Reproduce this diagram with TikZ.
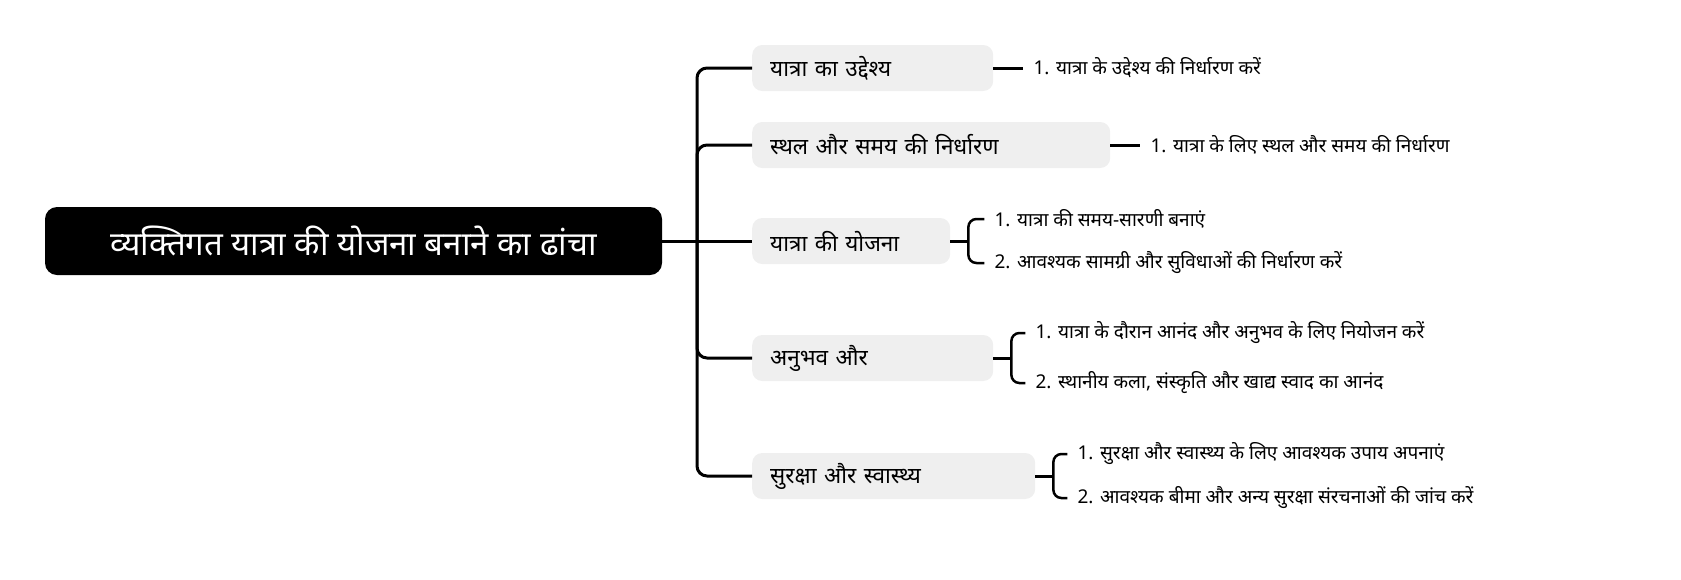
\documentclass[tikz,border=0pt]{standalone}
\usepackage{fontspec}
\setmainfont[Script=Devanagari]{Noto Sans}
\usetikzlibrary{positioning}
\definecolor{boxgray}{HTML}{EFEFEF}
\tikzset{
  rootbox/.style={fill=black, text=white, rounded corners=12pt, minimum width=617pt, minimum height=68pt, font=\fontsize{33}{38}\selectfont},
  topic/.style={fill=boxgray, rounded corners=10pt, minimum height=46pt, anchor=west, align=left, inner xsep=18pt, font=\fontsize{22.5}{26}\selectfont},
  leaf/.style={inner xsep=10pt, font=\fontsize{19}{23}\selectfont},
  link/.style={line width=3pt},
  bracelink/.style={line width=2.5pt, rounded corners=8pt},
}
\begin{document}
\begin{tikzpicture}[x=1pt, y=1pt]
    \useasboundingbox (0,0) rectangle (1681,-579);
    \node[rootbox] (root) at (353.5,-241) {व्यक्तिगत यात्रा की योजना बनाने का ढांचा};
    \coordinate (hub) at (697,-241);
    \node[topic, text width=205pt] (b1) at (752,-68) {यात्रा का उद्देश्य};
    \node[topic, text width=322pt] (b2) at (752,-145) {स्थल और समय की निर्धारण};
    \node[topic, text width=162pt] (b3) at (752,-241) {यात्रा की योजना};
    \node[topic, text width=205pt] (b4) at (752,-358) {अनुभव और};
    \node[topic, text width=247pt] (b5) at (752,-476) {सुरक्षा और स्वास्थ्य};
    \draw[link] (root.east) -- (b3.west);
    \foreach \b in {b1,b2,b4,b5}
        \draw[link, rounded corners=10pt] (hub) |- (\b.west);

    \node[leaf, right=30pt of b1] (b1a) {1. यात्रा के उद्देश्य की निर्धारण करें};
    \node[leaf, right=30pt of b2] (b2a) {1. यात्रा के लिए स्थल और समय की निर्धारण};
    \draw[link] (b1.east) -- (b1a.west);
    \draw[link] (b2.east) -- (b2a.west);

    \node[leaf, right=34pt of b3, yshift=22pt] (b3a) {1. यात्रा की समय-सारणी बनाएं};
    \node[leaf, right=34pt of b3, yshift=-22pt] (b3b) {2. आवश्यक सामग्री और सुविधाओं की निर्धारण करें};
    \node[leaf, right=32pt of b4, yshift=25pt] (b4a) {1. यात्रा के दौरान आनंद और अनुभव के लिए नियोजन करें};
    \node[leaf, right=32pt of b4, yshift=-25pt] (b4b) {2. स्थानीय कला, संस्कृति और खाद्य स्वाद का आनंद};
    \node[leaf, right=32pt of b5, yshift=22pt] (b5a) {1. सुरक्षा और स्वास्थ्य के लिए आवश्यक उपाय अपनाएं};
    \node[leaf, right=32pt of b5, yshift=-22pt] (b5b) {2. आवश्यक बीमा और अन्य सुरक्षा संरचनाओं की जांच करें};
    \foreach \b in {b3,b4,b5} {
        \coordinate (\b k) at ([xshift=18pt]\b.east);
        \draw[link] (\b.east) -- (\b k);
        \draw[bracelink] (\b a.west) -| (\b k) |- (\b b.west);
    }
\end{tikzpicture}
\end{document}
